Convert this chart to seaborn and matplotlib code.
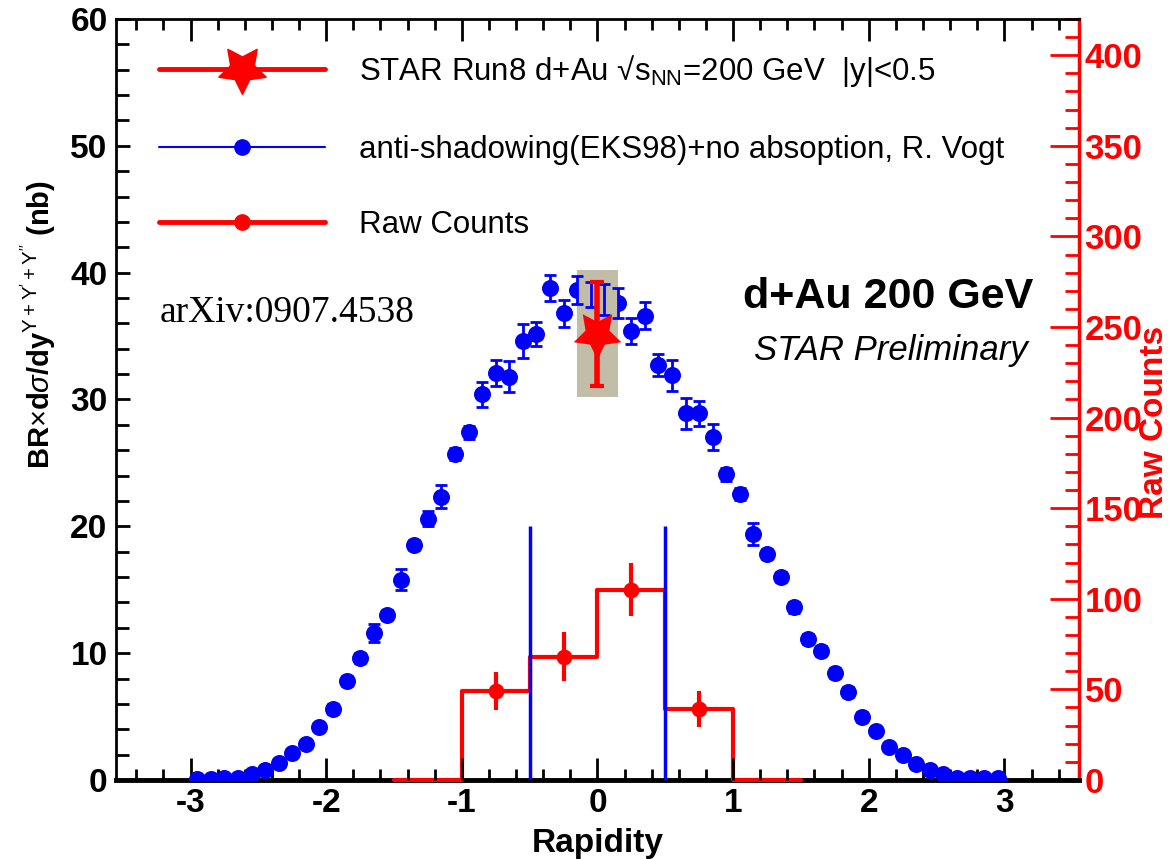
import matplotlib
matplotlib.use("Agg")
import matplotlib.pyplot as plt
from matplotlib.lines import Line2D
from matplotlib.patches import Rectangle
from matplotlib.ticker import MultipleLocator
import seaborn as sns
import pandas as pd

# model curve (R. Vogt), left axis in nb
rapidity = [-2.95, -2.85, -2.75, -2.65, -2.55, -2.45, -2.35, -2.25, -2.15, -2.05,
            -1.95, -1.85, -1.75, -1.65, -1.55, -1.45, -1.35, -1.25, -1.15, -1.05,
            -0.95, -0.85, -0.75, -0.65, -0.55, -0.45, -0.35, -0.25, -0.15, -0.05,
            0.05, 0.15, 0.25, 0.35, 0.45, 0.55, 0.65, 0.75, 0.85, 0.95,
            1.05, 1.15, 1.25, 1.35, 1.45, 1.55, 1.65, 1.75, 1.85, 1.95,
            2.05, 2.15, 2.25, 2.35, 2.45, 2.55, 2.65, 2.75, 2.85, 2.95]
model_xsec = [0.1, 0.1, 0.15, 0.15, 0.5, 0.8, 1.3, 2.1, 2.8, 4.2,
              5.6, 7.8, 9.6, 11.6, 13.0, 15.8, 18.5, 20.6, 22.35, 25.7,
              27.4, 30.4, 32.1, 31.8, 34.6, 35.15, 38.8, 36.8, 38.6, 38.3,
              37.9, 37.6, 35.4, 36.6, 32.7, 31.9, 28.9, 28.9, 27.05, 24.1,
              22.55, 19.4, 17.8, 16.0, 13.6, 11.1, 10.2, 8.45, 6.95, 4.95,
              3.9, 2.6, 2.0, 1.25, 0.8, 0.5, 0.15, 0.15, 0.15, 0.15]
model_err = [0.1, 0.1, 0.1, 0.1, 0.2, 0.2, 0.3, 0.3, 0.3, 0.3,
             0.4, 0.4, 0.4, 0.7, 0.4, 0.8, 0.4, 0.6, 0.9, 0.5,
             0.5, 1.0, 1.05, 1.2, 1.35, 0.95, 1.05, 1.05, 1.1, 1.0,
             1.2, 1.2, 1.0, 1.05, 0.85, 1.2, 1.2, 1.0, 1.05, 0.5,
             0.5, 0.9, 0.4, 0.4, 0.4, 0.4, 0.4, 0.4, 0.4, 0.4,
             0.3, 0.3, 0.3, 0.3, 0.2, 0.2, 0.1, 0.1, 0.1, 0.1]

# STAR measurement |y|<0.5
star_x = [0.0]
star_y = [35.2]
star_stat = [4.1]
star_sys = 5.0
box_halfwidth = 0.15

# raw counts histogram, right axis
raw_edges = [-1.5, -1.0, -0.5, 0.0, 0.5, 1.0, 1.5]
raw_centers = [-1.25, -0.75, -0.25, 0.25, 0.75, 1.25]
raw_counts = [0, 49, 68, 105, 39, 0]
raw_err = [0, 10.5, 13.5, 14.5, 10, 0]

# rapidity cut lines
cut_x = [-0.5, 0.5]
cut_top = 20

RED = "#ff0000"
BLUE = "#0000ff"

sns.set_theme(style="ticks")
plt.rcParams["font.family"] = ["Liberation Sans", "DejaVu Sans"]
plt.rcParams["mathtext.fontset"] = "custom"
plt.rcParams["mathtext.rm"] = "Liberation Sans"
plt.rcParams["mathtext.it"] = "Liberation Sans:italic"
plt.rcParams["mathtext.bf"] = "Liberation Sans:bold"
plt.rcParams["axes.unicode_minus"] = False
for key in ["text.color", "axes.labelcolor", "xtick.color", "ytick.color", "axes.edgecolor"]:
    plt.rcParams[key] = "black"

fig = plt.figure(figsize=(11.7, 8.59), dpi=100)
ax = fig.add_axes([0.0991, 0.0920, 0.8231, 0.8859])
ax2 = ax.twinx()
ax.set_zorder(ax2.get_zorder() + 1)
ax.patch.set_visible(False)

model = pd.DataFrame({"y": rapidity, "xsec": model_xsec, "err": model_err})
raw = pd.DataFrame({"y": raw_centers, "counts": raw_counts, "err": raw_err})

# raw counts step histogram on the right axis
sns.histplot(data=raw, x="y", weights="counts", bins=raw_edges, element="step",
             fill=False, color=RED, linewidth=3, ax=ax2, clip_on=False, zorder=3)
ax2.errorbar(raw["y"][1:5], raw["counts"][1:5], yerr=raw["err"][1:5], fmt="none",
             ecolor=RED, elinewidth=3, capsize=0, zorder=3)
sns.scatterplot(data=raw.iloc[1:5], x="y", y="counts", color=RED, s=130,
                edgecolor=RED, linewidth=0, ax=ax2, zorder=4)

# model points
sns.scatterplot(data=model, x="y", y="xsec", color=BLUE, s=150, edgecolor=BLUE,
                linewidth=0, ax=ax, zorder=2)
ax.add_patch(Rectangle((star_x[0] - box_halfwidth, star_y[0] - star_sys),
                       2 * box_halfwidth, 2 * star_sys, facecolor="#c1bda7",
                       edgecolor="none", zorder=3))
ax.errorbar(model["y"], model["xsec"], yerr=model["err"], fmt="none", ecolor=BLUE,
            elinewidth=2, capsize=4, capthick=2, zorder=4)

# rapidity window
ax.vlines(cut_x, 0, cut_top, color=BLUE, linewidth=2.5, zorder=4)

# STAR point
ax.errorbar(star_x, star_y, yerr=star_stat, fmt="none", ecolor=RED, elinewidth=4,
            capsize=5, capthick=3, zorder=5)
sns.scatterplot(x=star_x, y=star_y, marker=(5, 1, 180), s=1300, color=RED,
                edgecolor=RED, linewidth=0, ax=ax, zorder=6)

# axes
ax.set_xlim(-3.55, 3.55)
ax.set_ylim(0, 60)
ax2.set_ylim(0, 420)
ax.xaxis.set_major_locator(MultipleLocator(1))
ax.xaxis.set_minor_locator(MultipleLocator(0.2))
ax.yaxis.set_major_locator(MultipleLocator(10))
ax.yaxis.set_minor_locator(MultipleLocator(2))
ax2.yaxis.set_major_locator(MultipleLocator(50))
ax2.yaxis.set_minor_locator(MultipleLocator(10))
ax2.set_yticks(range(0, 401, 50))

ax.tick_params(axis="x", which="major", direction="in", length=16, width=2,
               top=True, labelsize=24, pad=6)
ax.tick_params(axis="x", which="minor", direction="in", length=8, width=2, top=True)
ax.tick_params(axis="y", which="major", direction="in", length=10, width=2,
               right=False, labelsize=24, pad=6)
ax.tick_params(axis="y", which="minor", direction="in", length=9, width=2, right=False)
ax2.tick_params(axis="y", which="major", direction="in", length=21, width=2,
                color=RED, labelcolor=RED, labelsize=25, pad=4)
ax2.tick_params(axis="y", which="minor", direction="in", length=10, width=2, color=RED)
for lab in ax.get_xticklabels() + ax.get_yticklabels() + ax2.get_yticklabels():
    lab.set_fontweight("bold")

for s in ["left", "top"]:
    ax.spines[s].set_linewidth(2)
    ax.spines[s].set_color("black")
ax.spines["bottom"].set_visible(False)
ax.spines["right"].set_visible(False)
for s in ["left", "top"]:
    ax2.spines[s].set_visible(False)
ax2.spines["bottom"].set_color("black")
ax2.spines["bottom"].set_linewidth(3.5)
ax2.spines["bottom"].set_zorder(2.5)
ax2.spines["right"].set_color(RED)
ax2.spines["right"].set_linewidth(2.5)

ax.set_xlabel("Rapidity", fontsize=24, fontweight="bold", labelpad=6)
ax.set_ylabel(r"BR$\times$d$\sigma$/dy$^{\Upsilon+\Upsilon'+\Upsilon''}$ (nb)",
              fontsize=21, fontweight="bold")
ax.yaxis.set_label_coords(-0.06, 0.598)
ax2.set_ylabel("Raw Counts", fontsize=24, fontweight="bold", color=RED)
ax2.yaxis.set_label_coords(1.062, 0.47)

# annotations
ax.text(0.0457, 0.6137, "arXiv:0907.4538", transform=ax.transAxes, fontsize=27,
        family=["Liberation Serif", "DejaVu Serif"], va="center", ha="left")
ax.text(0.953, 0.6347, "d+Au 200 GeV", transform=ax.transAxes, fontsize=31,
        fontweight="bold", va="center", ha="right")
ax.text(0.947, 0.565, "STAR Preliminary", transform=ax.transAxes, fontsize=25,
        style="italic", va="center", ha="right")

handles = [
    Line2D([], [], color=RED, lw=3.5, marker=(5, 1, 180), markersize=36),
    Line2D([], [], color=BLUE, lw=1.5, marker="o", markersize=11),
    Line2D([], [], color=RED, lw=3.5, marker="o", markersize=11),
]
labels = [
    r"STAR Run8 d+Au √s$_{\mathregular{NN}}$=200 GeV  |y|<0.5",
    "anti-shadowing(EKS98)+no absoption, R. Vogt",
    "Raw Counts",
]
ax.legend(handles, labels, loc="upper left", bbox_to_anchor=(0.045, 0.955),
          frameon=False, fontsize=22.5, handlelength=5.3, handletextpad=1.1,
          labelspacing=1.45, borderpad=0, borderaxespad=0)

fig.savefig("out.png", dpi=100)
plt.close(fig)
